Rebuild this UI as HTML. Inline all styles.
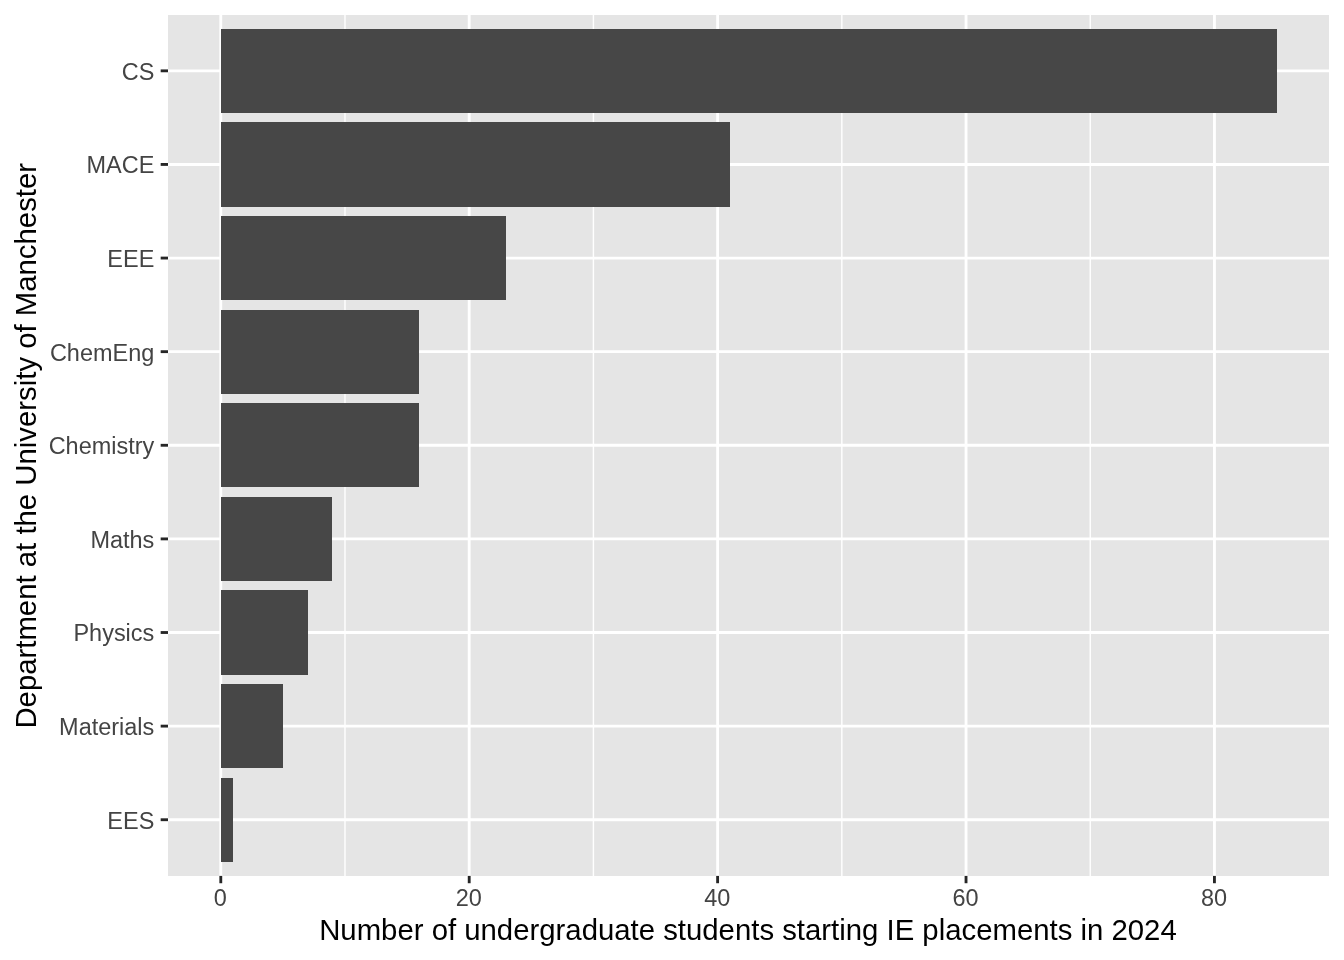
<!DOCTYPE html>
<html><head><meta charset="utf-8"><title>IE placements 2024</title>
<style>
html,body{margin:0;padding:0;background:#fff;}
svg{display:block;font-family:"Liberation Sans",Arial,Helvetica,sans-serif;}
</style></head><body>
<svg width="1344" height="960" viewBox="0 0 1344 960">
<rect width="1344" height="960" fill="#fff"/>
<rect x="168" y="15" width="1161" height="861" fill="#E5E5E5"/>
<line x1="344.99" x2="344.99" y1="14.67" y2="875.90" stroke="#fff" stroke-width="1.42"/>
<line x1="593.41" x2="593.41" y1="14.67" y2="875.90" stroke="#fff" stroke-width="1.42"/>
<line x1="841.82" x2="841.82" y1="14.67" y2="875.90" stroke="#fff" stroke-width="1.42"/>
<line x1="1090.23" x2="1090.23" y1="14.67" y2="875.90" stroke="#fff" stroke-width="1.42"/>
<line x1="220.79" x2="220.79" y1="14.67" y2="875.90" stroke="#fff" stroke-width="2.85"/>
<line x1="469.20" x2="469.20" y1="14.67" y2="875.90" stroke="#fff" stroke-width="2.85"/>
<line x1="717.61" x2="717.61" y1="14.67" y2="875.90" stroke="#fff" stroke-width="2.85"/>
<line x1="966.03" x2="966.03" y1="14.67" y2="875.90" stroke="#fff" stroke-width="2.85"/>
<line x1="1214.44" x2="1214.44" y1="14.67" y2="875.90" stroke="#fff" stroke-width="2.85"/>
<line x1="168.00" x2="1329.33" y1="819.73" y2="819.73" stroke="#fff" stroke-width="2.85"/>
<line x1="168.00" x2="1329.33" y1="726.12" y2="726.12" stroke="#fff" stroke-width="2.85"/>
<line x1="168.00" x2="1329.33" y1="632.51" y2="632.51" stroke="#fff" stroke-width="2.85"/>
<line x1="168.00" x2="1329.33" y1="538.90" y2="538.90" stroke="#fff" stroke-width="2.85"/>
<line x1="168.00" x2="1329.33" y1="445.28" y2="445.28" stroke="#fff" stroke-width="2.85"/>
<line x1="168.00" x2="1329.33" y1="351.67" y2="351.67" stroke="#fff" stroke-width="2.85"/>
<line x1="168.00" x2="1329.33" y1="258.06" y2="258.06" stroke="#fff" stroke-width="2.85"/>
<line x1="168.00" x2="1329.33" y1="164.45" y2="164.45" stroke="#fff" stroke-width="2.85"/>
<line x1="168.00" x2="1329.33" y1="70.84" y2="70.84" stroke="#fff" stroke-width="2.85"/>
<rect x="221" y="29" width="1056" height="84" fill="#474747"/>
<rect x="221" y="122" width="509" height="85" fill="#474747"/>
<rect x="221" y="216" width="285" height="84" fill="#474747"/>
<rect x="221" y="310" width="198" height="84" fill="#474747"/>
<rect x="221" y="403" width="198" height="84" fill="#474747"/>
<rect x="221" y="497" width="111" height="84" fill="#474747"/>
<rect x="221" y="590" width="87" height="85" fill="#474747"/>
<rect x="221" y="684" width="62" height="84" fill="#474747"/>
<rect x="221" y="778" width="12" height="84" fill="#474747"/>
<line x1="160.67" x2="168.00" y1="819.73" y2="819.73" stroke="#262626" stroke-width="2.85"/>
<line x1="160.67" x2="168.00" y1="726.12" y2="726.12" stroke="#262626" stroke-width="2.85"/>
<line x1="160.67" x2="168.00" y1="632.51" y2="632.51" stroke="#262626" stroke-width="2.85"/>
<line x1="160.67" x2="168.00" y1="538.90" y2="538.90" stroke="#262626" stroke-width="2.85"/>
<line x1="160.67" x2="168.00" y1="445.28" y2="445.28" stroke="#262626" stroke-width="2.85"/>
<line x1="160.67" x2="168.00" y1="351.67" y2="351.67" stroke="#262626" stroke-width="2.85"/>
<line x1="160.67" x2="168.00" y1="258.06" y2="258.06" stroke="#262626" stroke-width="2.85"/>
<line x1="160.67" x2="168.00" y1="164.45" y2="164.45" stroke="#262626" stroke-width="2.85"/>
<line x1="160.67" x2="168.00" y1="70.84" y2="70.84" stroke="#262626" stroke-width="2.85"/>
<line x1="220.79" x2="220.79" y1="875.90" y2="883.23" stroke="#262626" stroke-width="2.85"/>
<line x1="469.20" x2="469.20" y1="875.90" y2="883.23" stroke="#262626" stroke-width="2.85"/>
<line x1="717.61" x2="717.61" y1="875.90" y2="883.23" stroke="#262626" stroke-width="2.85"/>
<line x1="966.03" x2="966.03" y1="875.90" y2="883.23" stroke="#262626" stroke-width="2.85"/>
<line x1="1214.44" x2="1214.44" y1="875.90" y2="883.23" stroke="#262626" stroke-width="2.85"/>
<text x="154.30" y="80" text-anchor="end" font-size="23.47" fill="#444">CS</text>
<text x="154.30" y="173" text-anchor="end" font-size="23.47" fill="#444">MACE</text>
<text x="154.30" y="267" text-anchor="end" font-size="23.47" fill="#444">EEE</text>
<text x="154.30" y="361" text-anchor="end" font-size="23.47" fill="#444">ChemEng</text>
<text x="154.30" y="454" text-anchor="end" font-size="23.47" fill="#444">Chemistry</text>
<text x="154.30" y="548" text-anchor="end" font-size="23.47" fill="#444">Maths</text>
<text x="154.30" y="641" text-anchor="end" font-size="23.47" fill="#444">Physics</text>
<text x="154.30" y="735" text-anchor="end" font-size="23.47" fill="#444">Materials</text>
<text x="154.30" y="829" text-anchor="end" font-size="23.47" fill="#444">EES</text>
<text x="220.39" y="906" text-anchor="middle" font-size="23.47" fill="#444">0</text>
<text x="468.80" y="906" text-anchor="middle" font-size="23.47" fill="#444">20</text>
<text x="717.21" y="906" text-anchor="middle" font-size="23.47" fill="#444">40</text>
<text x="965.63" y="906" text-anchor="middle" font-size="23.47" fill="#444">60</text>
<text x="1214.04" y="906" text-anchor="middle" font-size="23.47" fill="#444">80</text>
<text x="747.96" y="940" text-anchor="middle" font-size="29.33" fill="#000">Number of undergraduate students starting IE placements in 2024</text>
<text transform="translate(35.5,445.78) rotate(-90)" text-anchor="middle" font-size="29.33" fill="#000">Department at the University of Manchester</text>
</svg>
</body></html>
